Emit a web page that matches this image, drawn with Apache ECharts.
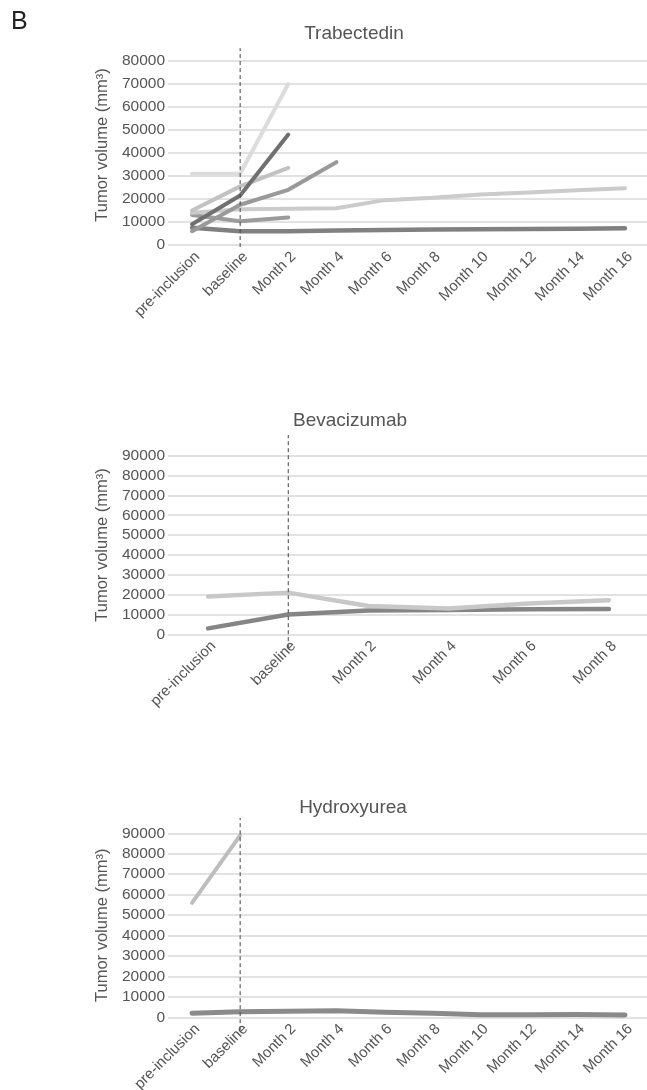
<!DOCTYPE html>
<html>
<head>
<meta charset="utf-8">
<script src="https://cdn.jsdelivr.net/npm/echarts@6/dist/echarts.min.js"></script>
<style>
html,body{margin:0;padding:0;background:#fff;}
#chart{width:647px;height:1090px;}
</style>
</head>
<body>
<div id="chart"></div>
<script>
// ---------- data ----------
const trabCategories = ['pre-inclusion','baseline','Month 2','Month 4','Month 6','Month 8','Month 10','Month 12','Month 14','Month 16'];
const bevaCategories = ['pre-inclusion','baseline','Month 2','Month 4','Month 6','Month 8'];
const hydroCategories = ['pre-inclusion','baseline','Month 2','Month 4','Month 6','Month 8','Month 10','Month 12','Month 14','Month 16'];

const trabPatient1 = [31000, 31000, 70000];
const trabPatient2 = [9000, 21500, 48000];
const trabPatient3 = [15000, 25500, 33500];
const trabPatient4 = [6000, 17500, 24000, 36000];
const trabPatient5 = [14000, 15500, 15800, 16000, 19500, 20500, 22000, 22800, 23800, 24700];
const trabPatient6 = [13000, 10300, 12000];
const trabPatient7 = [7500, 6000, 6000, 6300, 6500, 6700, 6900, 7000, 7100, 7300];

const bevaPatient1 = [19000, 21000, 14300, 13000, 15500, 17200];
const bevaPatient2 = [3000, 10000, 12000, 12200, 12600, 12800];

const hydroPatient1 = [56000, 89000];
const hydroPatient2 = [2000, 2700, 3000, 3200, 2500, 2000, 1300, 1200, 1400, 1100];

const trabTicks = [0, 80000, 10000];   // min, max, step
const bevaTicks = [0, 90000, 10000];
const hydroTicks = [0, 90000, 10000];

// extent of the dashed "baseline" reference line (data units, spills past the plot)
const trabRefExtent = [-900, 85600];
const bevaRefExtent = [-7000, 100400];
const hydroRefExtent = [-6300, 97500];

// ---------- chart ----------
const TXT = '#555555';
const GRIDC = '#d9d9d9';
const FONT = '"Liberation Sans", Arial, Helvetica, sans-serif';

const grids = [
  {left:168, top:61, width:481, height:184, containLabel:false, outerBoundsMode:'none'},
  {left:168, top:455.7, width:481, height:178.6, containLabel:false, outerBoundsMode:'none'},
  {left:168, top:833.3, width:481, height:184, containLabel:false, outerBoundsMode:'none'}
];

function xAxisFor(idx, cats){
  return {
    type:'category', gridIndex:idx, data:cats, boundaryGap:true,
    axisLine:{show:false}, axisTick:{show:false},
    axisLabel:{rotate:45, color:TXT, fontSize:15, fontFamily:FONT, margin:4, interval:0, verticalAlign:'top'}
  };
}
function yAxisFor(idx, ticks, pad){
  return {
    type:'value', gridIndex:idx, min:ticks[0], max:ticks[1], interval:ticks[2],
    name:'Tumor volume (mm³)', nameLocation:'middle', nameGap:52,
    nameTextStyle:{color:TXT, fontSize:16.5, fontFamily:FONT, padding:pad},
    axisLine:{show:false}, axisTick:{show:false},
    axisLabel:{color:TXT, fontSize:15.5, fontFamily:FONT, margin:3, formatter:function(v){return String(v);}},
    splitLine:{lineStyle:{color:GRIDC, width:1.5}}
  };
}
function lineSeries(idx, data, color, width){
  return {
    type:'line', xAxisIndex:idx, yAxisIndex:idx, data:data,
    showSymbol:false, symbol:'none', silent:true, z:3,
    lineStyle:{color:color, width:width||4, cap:'round', join:'round'}
  };
}
function refSeries(idx, extent){
  return {
    type:'line', xAxisIndex:idx, yAxisIndex:idx, clip:false, z:5,
    data:[['baseline', extent[0]], ['baseline', extent[1]]],
    showSymbol:false, symbol:'none', silent:true,
    lineStyle:{color:'#444', width:1, type:[4,3]}
  };
}

const option = {
  animation:false,
  backgroundColor:'#fff',
  title:[
    {text:'B', left:11, top:10, padding:0, textStyle:{color:'#222', fontSize:25, fontWeight:'normal', fontFamily:FONT}},
    {text:'Trabectedin', left:354, top:24, textAlign:'center', padding:0, textStyle:{color:TXT, fontSize:19, fontWeight:'normal', fontFamily:FONT}},
    {text:'Bevacizumab', left:350, top:411, textAlign:'center', padding:0, textStyle:{color:TXT, fontSize:19, fontWeight:'normal', fontFamily:FONT}},
    {text:'Hydroxyurea', left:353, top:798, textAlign:'center', padding:0, textStyle:{color:TXT, fontSize:19, fontWeight:'normal', fontFamily:FONT}}
  ],
  grid:grids,
  xAxis:[xAxisFor(0, trabCategories), xAxisFor(1, bevaCategories), xAxisFor(2, hydroCategories)],
  yAxis:[yAxisFor(0, trabTicks, [0,0,0,16]), yAxisFor(1, bevaTicks, 0), yAxisFor(2, hydroTicks, 0)],
  series:[
    lineSeries(0, trabPatient7, '#808080', 4.5),
    lineSeries(0, trabPatient6, '#9b9b9b'),
    lineSeries(0, trabPatient5, '#cbcbcb'),
    lineSeries(0, trabPatient4, '#999999'),
    lineSeries(0, trabPatient3, '#c2c2c2'),
    lineSeries(0, trabPatient2, '#707070'),
    lineSeries(0, trabPatient1, '#dcdcdc'),
    refSeries(0, trabRefExtent),

    lineSeries(1, bevaPatient2, '#858585', 4.5),
    lineSeries(1, bevaPatient1, '#c8c8c8', 4.5),
    refSeries(1, bevaRefExtent),

    lineSeries(2, hydroPatient2, '#8a8a8a', 5),
    lineSeries(2, hydroPatient1, '#bdbdbd', 4),
    refSeries(2, hydroRefExtent)
  ]
};

const chart = echarts.init(document.getElementById('chart'), null, {renderer:'canvas'});
chart.setOption(option);
</script>
</body>
</html>
